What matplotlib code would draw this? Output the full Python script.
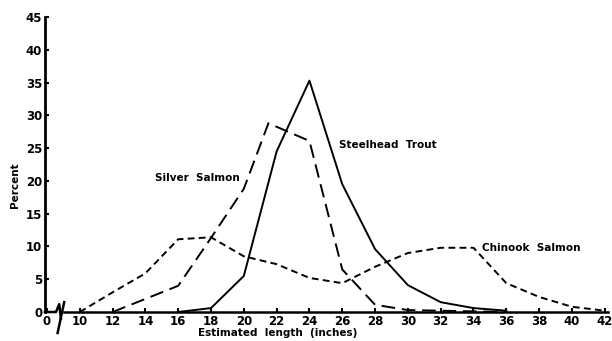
import matplotlib.pyplot as plt

# lengths in inches; the "0" tick sits at 8 on the axis because of the break
steelhead_x = [16, 18, 20, 22, 24, 26, 28, 30, 32, 34, 36]
steelhead_y = [0, 0.6, 5.5, 24.5, 35.3, 19.5, 9.6, 4.1, 1.5, 0.6, 0.2]

silver_x = [12, 14, 16, 18, 20, 21.5, 24, 26, 28, 30, 32, 34, 36]
silver_y = [0, 2.0, 4.0, 11.3, 18.8, 28.8, 26.1, 6.5, 1.1, 0.3, 0.2, 0.1, 0.0]

chinook_x = [10, 12, 14, 16, 18, 20, 22, 24, 26, 28, 30, 32, 34, 36, 38, 40, 42]
chinook_y = [0, 3.0, 5.9, 11.1, 11.4, 8.5, 7.3, 5.2, 4.4, 6.9, 9.0, 9.8, 9.8, 4.4, 2.3, 0.8, 0.2]

xticks = [8, 10, 12, 14, 16, 18, 20, 22, 24, 26, 28, 30, 32, 34, 36, 38, 40, 42]
xticklabels = ["0"] + [str(v) for v in xticks[1:]]
yticks = list(range(0, 50, 5))

plt.rcParams['font.family'] = 'DejaVu Sans'
plt.rcParams['font.weight'] = 'bold'
plt.rcParams['axes.labelweight'] = 'bold'

fig = plt.figure(figsize=(6.12, 3.41), dpi=100)
ax = fig.add_axes([0.0735, 0.085, 0.92, 0.865])

ax.plot(steelhead_x, steelhead_y, color='black', lw=1.4)
ax.plot(silver_x, silver_y, color='black', lw=1.4, dashes=(7, 3.5))
ax.plot(chinook_x, chinook_y, color='black', lw=1.4, dashes=(3.5, 2.2))

ax.set_xlim(7.88, 42.2)
ax.set_ylim(0, 45)
ax.set_xticks(xticks)
ax.set_xticklabels(xticklabels)
ax.set_yticks(yticks)
ax.tick_params(direction='in', length=3, width=1.5, labelsize=8.5, pad=2)

for s in ['top', 'right', 'bottom']:
    ax.spines[s].set_visible(False)
ax.spines['left'].set_linewidth(2)

# x axis with a break near the origin
ax.plot([7.88, 8.55, 8.75, 8.85], [0, 0, 1.2, -1.0], color='black', lw=1.8, clip_on=False)
ax.plot([8.65, 9.05], [-3.2, 1.5], color='black', lw=1.8, clip_on=False)
ax.plot([9.05, 9.25, 42.2], [0, 0, 0], color='black', lw=1.8, clip_on=False)

ax.text(14.6, 20.5, "Silver  Salmon", fontsize=7.5, ha='left', va='center')
ax.text(25.8, 25.5, "Steelhead  Trout", fontsize=7.5, ha='left', va='center')
ax.text(34.5, 9.8, "Chinook  Salmon", fontsize=7.5, ha='left', va='center')

ax.set_ylabel("Percent", fontsize=7.5, labelpad=4, y=0.43)
ax.set_xlabel("Estimated  length  (inches)", fontsize=7.5, labelpad=0, x=0.414)

fig.savefig("out.png", dpi=100)
